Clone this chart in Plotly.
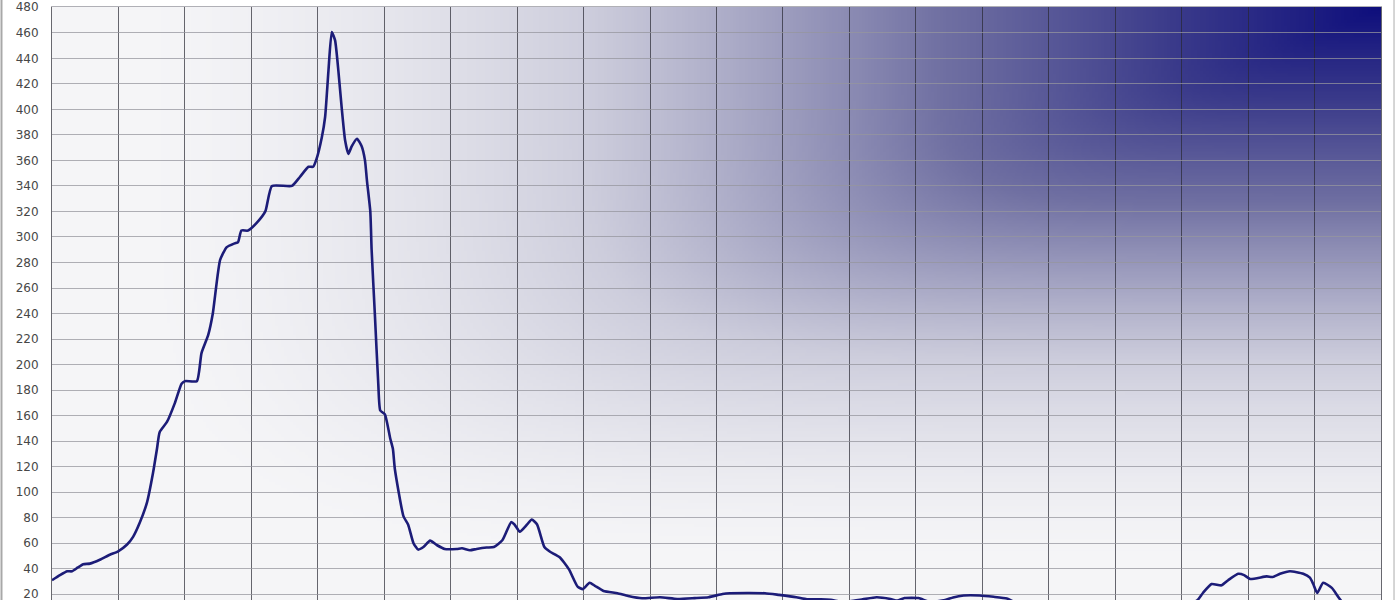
import base64
import struct
import zlib

import numpy as np
import plotly.graph_objects as go

# x is measured in grid columns (20 columns across the plot), y in chart units
x_pos = [0.00, 0.12, 0.23, 0.30, 0.39, 0.47, 0.57, 0.72, 0.87, 0.99,
         1.13, 1.22, 1.32, 1.43, 1.52, 1.58, 1.62, 1.73, 1.85, 1.95,
         2.00, 2.18, 2.25, 2.35, 2.42, 2.53, 2.63, 2.75, 2.80, 2.85,
         2.95, 3.08, 3.21, 3.31, 3.61, 3.73, 3.86, 3.93, 3.98, 4.06,
         4.11, 4.16, 4.21, 4.26, 4.31, 4.36, 4.41, 4.46, 4.51, 4.59,
         4.66, 4.71, 4.74, 4.79, 4.81, 4.86, 4.91, 4.94, 5.01, 5.09,
         5.13, 5.16, 5.29, 5.36, 5.44, 5.51, 5.59, 5.69, 5.79, 5.91,
         6.09, 6.17, 6.29, 6.39, 6.54, 6.65, 6.78, 6.91, 6.96, 7.04,
         7.15, 7.22, 7.30, 7.41, 7.49, 7.64, 7.78, 7.91, 7.99, 8.09,
         8.17, 8.30, 8.51, 8.67, 8.88, 9.15, 9.41, 9.67, 9.88, 10.09,
         10.20, 10.73, 10.94, 11.20, 11.36, 11.57, 11.72, 11.89, 12.01, 12.20,
         12.41, 12.62, 12.72, 12.83, 13.04, 13.21, 13.44, 13.56, 13.72, 13.96,
         14.17, 14.37, 14.49, 14.87, 15.47, 16.07, 16.67, 17.05, 17.23, 17.32,
         17.45, 17.60, 17.70, 17.85, 17.94, 18.03, 18.28, 18.37, 18.48, 18.63,
         18.83, 18.93, 18.98, 19.04, 19.13, 19.26, 19.40, 19.55, 19.76, 20.00]

values = [31, 35, 38, 38, 41, 43.5, 44, 47, 51, 53.5,
          59, 65, 76, 92, 115, 134, 147, 155, 170, 185,
          187, 187, 209, 223, 240, 282, 292, 295, 296, 305,
          305, 311, 320, 340, 340, 347, 355, 355, 361, 378,
          394, 430, 460.5, 454, 430, 401, 376, 365, 371, 377,
          371, 360, 344, 320, 290, 238, 185, 164, 161, 142,
          134, 118, 81, 74.5, 60, 55, 57, 62, 58.6, 55.5,
          55.5, 56, 54.5, 55.5, 56.6, 57, 62.5, 76.5, 74.7, 69,
          74.7, 78.6, 74.7, 57, 53.5, 49, 39.5, 26, 24, 29,
          26.6, 22.6, 20.8, 18.7, 16.9, 17.7, 16.3, 17, 17.7, 20.2,
          20.8, 20.8, 19.5, 17.7, 16.1, 16.1, 15.6, 14, 14.5, 16,
          17.7, 16.3, 15, 17, 17, 14, 15.5, 17.5, 19, 19,
          18, 16.7, 14, 12, 11, 11.5, 12, 13, 15, 21,
          28, 27, 31, 36, 35, 32, 34, 33.5, 36, 38,
          36, 33, 28, 21, 29, 25, 15, 11, 8, 7]

y_ticks = list(range(20, 481, 20))


def gradient_background(w=444, h=198):
    # navy glow spreading out of the top-right corner of the plot area
    xn = np.linspace(0, 1, w)[None, :]
    yn = np.linspace(1, 0, h)[:, None]
    dist = ((1 - xn) ** 6 + (1 - yn) ** 6) ** (1 / 6)
    s = np.clip((1 - dist - 0.06) / 0.94, 0, 1)
    d = s ** 1.6
    stops = [0, 0.2, 0.5, 0.75, 1]
    rg = np.interp(d, stops, [245, 205, 112, 58, 14])
    bl = np.interp(d, stops, [247, 220, 162, 138, 124])
    rgb = np.stack([rg, rg, bl], axis=-1).round().astype(np.uint8)

    raw = b"".join(b"\x00" + rgb[r].tobytes() for r in range(h))

    def chunk(tag, data):
        body = tag + data
        return struct.pack(">I", len(data)) + body + struct.pack(">I", zlib.crc32(body) & 0xFFFFFFFF)

    png = (b"\x89PNG\r\n\x1a\n"
           + chunk(b"IHDR", struct.pack(">IIBBBBB", w, h, 8, 2, 0, 0, 0))
           + chunk(b"IDAT", zlib.compress(raw, 9))
           + chunk(b"IEND", b""))
    return "data:image/png;base64," + base64.b64encode(png).decode()


fig = go.Figure()
fig.add_trace(go.Scatter(
    x=x_pos, y=values, mode="lines",
    line=dict(color="#1c1c78", width=2.6, shape="spline", smoothing=0.5),
    hoverinfo="skip",
))

fig.update_layout(
    width=1400, height=600,
    margin=dict(l=52, r=19, t=7, b=0),
    paper_bgcolor="white",
    plot_bgcolor="#f4f4f6",
    showlegend=False,
    images=[dict(source=gradient_background(), xref="paper", yref="paper",
                 x=0, y=1, sizex=1, sizey=1, sizing="stretch", layer="below")],
    shapes=[
        dict(type="line", xref="paper", yref="paper", x0=-0.038, x1=-0.038, y0=-0.02, y1=1.02,
             line=dict(color="#a8a8a8", width=2)),
        dict(type="line", xref="paper", yref="paper", x0=1.0098, x1=1.0098, y0=-0.02, y1=1.02,
             line=dict(color="#c8c8c8", width=1.5)),
    ],
)

fig.update_xaxes(
    range=[0, 20], dtick=1, tick0=0,
    showgrid=True, gridcolor="rgba(40,40,50,0.7)", gridwidth=1,
    showticklabels=False, zeroline=False,
    showline=True, mirror=True, linecolor="rgba(150,150,158,0.75)",
)
fig.update_yaxes(
    range=[15.5, 480.2], tickvals=y_ticks,
    showgrid=True, gridcolor="rgba(150,150,158,0.75)", gridwidth=1,
    zeroline=False, ticks="", ticklabelstandoff=10, ticklabeloverflow="allow",
    tickfont=dict(family="DejaVu Sans", size=12, color="#474747"),
    showline=True, mirror=True, linecolor="rgba(40,40,50,0.7)",
)

# the page is photographed at exactly the figure size, so drop the body margin
fig.write_html("out.html", config={"displayModeBar": False},
               post_script="document.body.style.margin = '0';")
